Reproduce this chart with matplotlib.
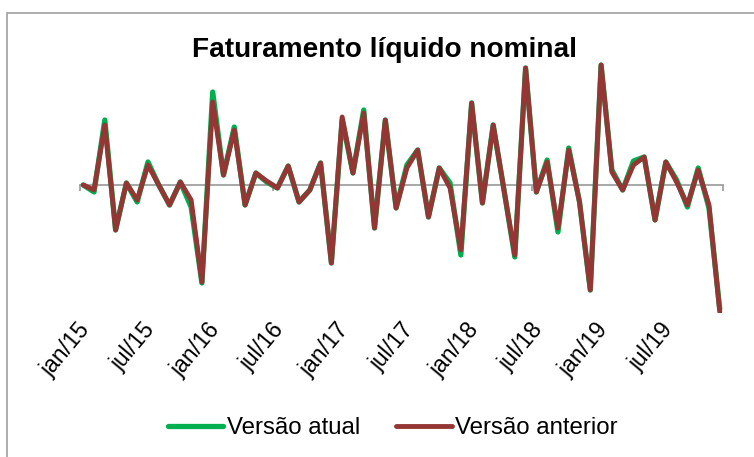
import matplotlib
matplotlib.use("Agg")
import matplotlib.pyplot as plt
from matplotlib.patches import Rectangle
from matplotlib.transforms import ScaledTranslation

plt.rcParams['font.family'] = ['Liberation Sans', 'DejaVu Sans']

title = "Faturamento líquido nominal"
series_names = ["Versão atual", "Versão anterior"]

# monthly values, jan/15 .. dec/19 (relative units)
versao_anterior = [0.0, -0.5, 6.0, -4.5, 0.2, -1.5, 2.0, 0.0, -2.0, 0.3, -1.5, -9.7,
                   8.3, 1.0, 5.5, -2.0, 1.2, 0.4, -0.3, 1.9, -1.7, -0.5, 2.2, -7.8,
                   6.8, 1.2, 7.2, -4.3, 6.5, -2.3, 1.7, 3.5, -3.2, 1.7, -0.3, -6.5,
                   8.2, -1.8, 6.0, -0.5, -7.0, 11.7, -0.7, 2.3, -4.3, 3.5, -1.7, -10.5,
                   12.0, 1.3, -0.5, 2.0, 2.8, -3.5, 2.3, 0.3, -2.0, 1.5, -2.0, -12.7]
versao_atual = [0.0, -0.7, 6.5, -4.5, 0.2, -1.7, 2.3, 0.0, -2.0, 0.3, -2.2, -9.8,
                9.3, 1.0, 5.8, -2.0, 1.2, 0.3, -0.3, 1.9, -1.7, -0.5, 2.2, -7.8,
                6.5, 1.2, 7.5, -4.3, 6.5, -2.3, 2.0, 3.5, -3.2, 1.7, 0.2, -7.0,
                8.2, -1.8, 6.0, -0.5, -7.2, 11.7, -0.7, 2.5, -4.7, 3.7, -1.7, -10.5,
                12.0, 1.5, -0.5, 2.4, 2.8, -3.5, 2.3, 0.5, -2.2, 1.7, -2.3, -12.4]
month_index = list(range(len(versao_anterior)))
tick_labels = ["jan/15", "jul/15", "jan/16", "jul/16", "jan/17", "jul/17",
               "jan/18", "jul/18", "jan/19", "jul/19"]
label_positions = [6 * k for k in range(len(tick_labels))]
tick_marks = [-0.3, 17.6, 41.6, 59.3]

W, H = 754, 457
fig = plt.figure(figsize=(W / 100, H / 100), dpi=100)
ax = fig.add_axes([80 / W, (H - 313) / H, 643 / W, 253 / H])

green = "#00B050"
brown = "#943634"
ax.plot(month_index, versao_atual, color=green, lw=3.8, solid_joinstyle='round',
        solid_capstyle='round', label=series_names[0], zorder=3)
ax.plot(month_index, versao_anterior, color=brown, lw=3.5, solid_joinstyle='round',
        solid_capstyle='round', label=series_names[1], zorder=4)

ax.set_xlim(-0.3, 59.3)
ax.set_ylim(-12.8, 12.5)
for s in ['top', 'right', 'left']:
    ax.spines[s].set_visible(False)
ax.spines['bottom'].set_position(('data', 0))
ax.spines['bottom'].set_color('#A0A0A0')
ax.spines['bottom'].set_linewidth(1.3)
ax.spines['bottom'].set_zorder(2)
ax.set_yticks([])
ax.set_xticks(tick_marks)
ax.set_xticklabels([])
ax.tick_params(axis='x', direction='out', length=4, width=1.3, color='#A0A0A0')

sec = ax.secondary_xaxis(0.0)
sec.spines['bottom'].set_visible(False)
sec.set_xticks(label_positions)
sec.set_xticklabels(tick_labels, rotation=50, ha='right', va='top',
                    rotation_mode='anchor', fontsize=16.5)
sec.tick_params(axis='x', length=0, pad=4)
offset = ScaledTranslation(-6 / 100, 0, fig.dpi_scale_trans)
for lbl in sec.get_xticklabels():
    lbl.set_transform(lbl.get_transform() + offset)

fig.text(385 / W, 1 - 50 / H, title, ha='center', va='center', fontsize=20.2,
         fontweight='bold')

fig.legend(loc='center', bbox_to_anchor=(393 / W, 1 - 428 / H), ncol=2,
           frameon=False, fontsize=17.3, handlelength=2.3, handletextpad=0.15,
           columnspacing=1.5)

border = Rectangle((7 / W, -0.1), 1.2, 1.1 - 13 / H, transform=fig.transFigure,
                   facecolor='none', edgecolor='#A0A0A0', lw=1.2, clip_on=False)
fig.patches.append(border)

fig.savefig("out.png", dpi=100)
